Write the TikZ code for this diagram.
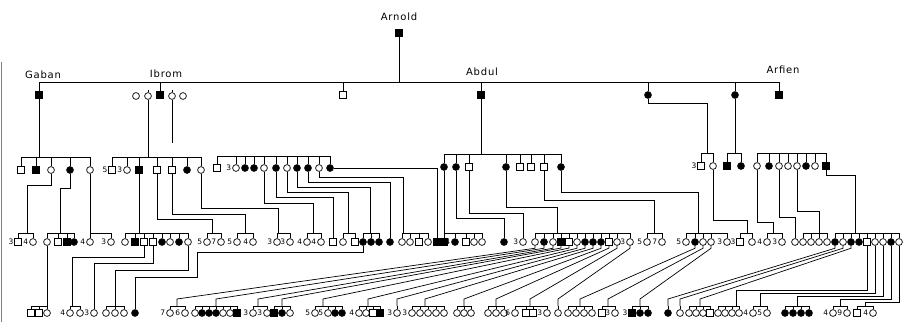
\documentclass[tikz,border=0pt]{standalone}
\usepackage{fontspec}
\setmainfont{DejaVu Sans}
\newfontfamily\lettering[LetterSpace=8]{DejaVu Sans}
\usetikzlibrary{positioning}

\tikzset{
  kin/.style={line width=0.7pt},
  male/.style={draw, rectangle, minimum size=6.4pt, inner sep=0pt, fill=white, line width=0.7pt},
  fem/.style={draw, circle, minimum size=6.8pt, inner sep=0pt, fill=white, line width=0.7pt},
  maleA/.style={male, fill=black},
  femA/.style={fem, fill=black},
  tally/.style={anchor=east, inner sep=0pt, font=\fontsize{7.5}{8}\selectfont},
  founder/.style={inner sep=0pt, font=\lettering\fontsize{10}{10}\selectfont},
}

% #1 row, #2 bar y, #3-#4 bar ends, #5 symbol y, #6 children x/style/count
\newcommand\sibship[6]{%
  \draw[kin] (#3,#2) -- (#4,#2);
  \foreach \x/\s/\n in {#6}{%
    \node[\s] (#1-\x) at (\x,#5) {};
    \node[tally] (#1-\x-n) at ([xshift=-0.8pt]#1-\x.west) {\n};
    \draw[kin] (\x,#2) -- (#1-\x);
  }}
% #1 parent, #2 turn y, #3 bar x, #4 bar y
\newcommand\descent[4]{\draw[kin] (#1.south) |- (#3,#2) -- (#3,#4);}
% #1 parent, #2 bar x
\newcommand\fan[2]{\draw[kin] (#1.south) -- ++(0,2.5) -- (#2,299) -- (#2,306);}

\begin{document}
\begin{tikzpicture}[x=1pt, y=-1pt]
  \useasboundingbox (0,0) rectangle (903,322);
  \draw[gray, line width=0.5pt] (1.5,62) -- (1.5,322);             % page edge

  % generation I
  \node[maleA, minimum size=7.5pt] (arnold) at (399,33) {};
  \node[founder, above=8pt of arnold] (larnold) {Arnold};
  \draw[kin] (arnold) -- (399,82);
  \draw[kin] (39,82) -- (779,82);
  \foreach \x/\s/\nm in {39/maleA/gaban, 160/maleA/ibrom, 343/male/p343, 481/maleA/abdul,
                         648/femA/p648, 735/femA/p735, 779/maleA/arfien}
    {\node[\s] (\nm) at (\x,95) {}; \draw[kin] (\x,82) -- (\nm);}
  \foreach \x in {136,148,172,183} {\node[fem] (w\x) at (\x,96) {};}
  \draw[kin] (148,90) -- (w148);
  \draw[kin] (172,90) -- (w172) -- (172,143);
  \node[founder] (lgaban) at (43,75) {Gaban};
  \node[founder] (librom) at (166,74) {Ibrom};
  \node[founder] (labdul) at (482,72) {Abdul};
  \node[founder] (larfien) at (783,70) {Arfien};

  % generation II
  \sibship{r2}{157}{21}{90}{170}{21/male/{}, 36/maleA/{}, 51/fem/{}, 70/femA/{}, 90/fem/{}}
  \descent{gaban}{157}{39}{157}
  \sibship{r2}{157}{112}{201}{170}{112/male/5, 127/fem/3, 139/maleA/{}, 157/male/{}, 172/male/{},
    187/femA/{}, 201/fem/{}}
  \descent{w148}{157}{148}{157}
  \sibship{r2}{156}{217}{330}{168}{217/male/{}, 236/fem/3, 245/femA/{}, 254/femA/{}, 264/fem/{},
    276/femA/{}, 287/fem/{}, 297/femA/{}, 308/femA/{}, 319/fem/{}, 330/femA/{}}
  \sibship{r2}{154}{444}{561}{167}{444/femA/{}, 456/femA/{}, 469/male/{}, 506/femA/{}, 520/male/{},
    531/male/{}, 544/male/{}, 561/femA/{}}
  \descent{abdul}{154}{481}{154}
  \sibship{r2}{153}{701}{713}{166}{701/male/3, 713/fem/{}}
  \descent{p648}{103}{707}{153}
  \sibship{r2}{153}{727}{741}{166}{727/maleA/{}, 741/femA/{}}
  \descent{p735}{153}{735}{153}
  \sibship{r2}{153}{757}{826}{166}{757/fem/{}, 769/femA/{}, 779/fem/{}, 788/fem/{}, 797/fem/{},
    806/femA/{}, 815/fem/{}, 826/maleA/{}}

  % generation II to III
  \descent{r2-51}{185}{27}{233}
  \descent{r2-70}{188}{60}{233}
  \descent{r2-90}{233}{90}{233}
  \descent{r2-139}{233}{139}{233}
  \descent{r2-157}{219}{212}{233}
  \descent{r2-172}{214}{245}{233}
  \descent{r2-201}{208}{278}{233}
  \descent{r2-264}{203}{313}{233}
  \descent{r2-276}{197}{333}{233}
  \descent{r2-287}{192}{348}{233}
  \descent{r2-297}{187}{370}{233}
  \descent{r2-308}{182}{390}{233}
  \descent{r2-319}{177}{403}{233}
  \draw[kin] (r2-330.east) -| (437,233);
  \descent{r2-444}{233}{444}{233}
  \descent{r2-456}{218}{504}{233}
  \descent{r2-469}{213}{523}{233}
  \descent{r2-506}{207}{557}{233}
  \descent{r2-544}{200}{654}{233}
  \descent{r2-561}{192}{698}{233}
  \descent{r2-713}{220}{747}{233}
  \descent{r2-757}{222}{773}{233}
  \descent{r2-779}{217}{795}{233}
  \descent{r2-797}{211}{819}{233}
  \descent{r2-826}{175}{855}{233}

  % generation III
  \sibship{r3}{233}{18}{33}{242}{18/male/3, 33/fem/4}
  \sibship{r3}{233}{47}{74}{242}{47/fem/{}, 58/male/{}, 67/maleA/{}, 74/femA/{}}
  \sibship{r3}{233}{90}{111}{242}{90/fem/4, 111/fem/3}
  \sibship{r3}{233}{125}{188}{242}{125/fem/{}, 135/maleA/{}, 144/male/{}, 153/male/{}, 162/femA/{},
    170/fem/{}, 179/femA/{}, 188/fem/{}}
  \sibship{r3}{233}{207}{221}{242}{207/fem/5, 221/fem/7}
  \sibship{r3}{233}{237}{253}{242}{237/fem/5, 253/fem/4}
  \sibship{r3}{233}{277}{290}{242}{277/fem/3, 290/fem/3}
  \sibship{r3}{233}{307}{321}{242}{307/fem/4, 321/fem/4}
  \sibship{r3}{233}{333}{333}{242}{333/male/{}}
  \sibship{r3}{233}{343}{355}{242}{343/fem/{}, 355/male/{}}
  \sibship{r3}{233}{363}{379}{242}{363/femA/{}, 371/femA/{}, 379/femA/{}}
  \sibship{r3}{233}{390}{390}{242}{390/femA/{}}
  \sibship{r3}{233}{402}{428}{242}{402/fem/{}, 410/fem/{}, 419/male/{}, 428/fem/{}}
  \sibship{r3}{233}{437}{437}{242}{437/maleA/{}}
  \sibship{r3}{233}{444}{482}{242}{444/maleA/{}, 455/femA/4, 466/male/{}, 474/fem/{}, 482/fem/{}}
  \sibship{r3}{233}{504}{504}{242}{504/femA/{}}
  \sibship{r3}{233}{523}{523}{242}{523/fem/3}
  \sibship{r3}{233}{535}{630}{242}{535/fem/{}, 544/femA/{}, 553/fem/{}, 561/maleA/{}, 569/male/{},
    577/fem/{}, 585/femA/{}, 593/femA/{}, 601/femA/{}, 609/male/{}, 617/fem/{}, 630/fem/3}
  \sibship{r3}{233}{647}{662}{242}{647/fem/5, 662/fem/7}
  \sibship{r3}{233}{686}{727}{242}{686/fem/5, 695/femA/{}, 703/fem/{}, 711/fem/{}, 727/fem/3}
  \sibship{r3}{233}{740}{752}{242}{740/male/3, 752/fem/{}}
  \sibship{r3}{233}{767}{782}{242}{767/fem/4, 782/fem/3}
  \sibship{r3}{233}{795}{795}{242}{795/fem/{}}
  \sibship{r3}{233}{803}{827}{242}{803/fem/{}, 811/fem/{}, 819/fem/{}, 827/fem/{}}
  \sibship{r3}{233}{835}{899}{242}{835/femA/{}, 843/fem/{}, 851/femA/{}, 859/femA/{}, 867/male/{},
    875/fem/{}, 883/fem/{}, 891/femA/{}, 899/fem/{}}

  % generation III to IV
  \descent{r3-47}{306}{47}{306}
  \descent{r3-144}{257}{72}{306}
  \descent{r3-153}{263}{94}{306}
  \descent{r3-188}{270}{115}{306}
  \draw[kin] (r3-363.south) |- (197,252) |- (135,277) -- (135,306);
  \foreach \s/\t in {535/177, 544/216, 553/258, 561/282, 569/323, 577/368, 585/397, 593/425,
                     601/464, 609/496, 617/530, 630/558, 695/580, 703/608, 711/640,
                     835/668, 843/680, 851/700}
    {\fan{r3-\s}{\t}}
  \descent{r3-867}{290}{736}{306}
  \descent{r3-875}{293}{760}{306}
  \descent{r3-883}{296}{797}{306}
  \descent{r3-891}{299}{840}{306}
  \descent{r3-899}{302}{865}{306}

  % generation IV
  \sibship{r4}{306}{31}{47}{313}{31/male/{}, 39/male/{}, 47/fem/{}}
  \sibship{r4}{306}{70}{80}{313}{70/fem/4, 80/fem/{}}
  \sibship{r4}{306}{94}{94}{313}{94/fem/3}
  \sibship{r4}{306}{106}{124}{313}{106/fem/{}, 115/fem/{}, 124/fem/{}}
  \sibship{r4}{306}{135}{135}{313}{135/femA/{}}
  \sibship{r4}{306}{170}{185}{313}{170/fem/7, 185/fem/6}
  \sibship{r4}{306}{195}{237}{313}{195/fem/{}, 202/femA/{}, 209/femA/{}, 216/femA/{}, 223/fem/{},
    230/fem/{}, 237/maleA/{}}
  \sibship{r4}{306}{253}{267}{313}{253/fem/3, 267/fem/3}
  \sibship{r4}{306}{274}{290}{313}{274/maleA/{}, 282/femA/{}, 290/fem/{}}
  \sibship{r4}{306}{315}{342}{313}{315/fem/5, 328/fem/5, 335/femA/{}, 342/femA/{}}
  \sibship{r4}{306}{359}{380}{313}{359/fem/4, 366/fem/{}, 373/male/{}, 380/maleA/{}}
  \sibship{r4}{306}{397}{397}{313}{397/fem/3}
  \sibship{r4}{306}{412}{444}{313}{412/fem/3, 420/fem/{}, 428/fem/{}, 436/fem/{}, 444/fem/{}}
  \sibship{r4}{306}{457}{471}{313}{457/fem/{}, 464/fem/{}, 471/fem/{}}
  \sibship{r4}{306}{488}{504}{313}{488/fem/{}, 496/fem/{}, 504/fem/{}}
  \sibship{r4}{306}{515}{547}{313}{515/fem/6, 526/male/{}, 533/male/{}, 547/fem/3}
  \sibship{r4}{306}{558}{558}{313}{558/fem/{}}
  \sibship{r4}{306}{568}{592}{313}{568/fem/{}, 576/fem/{}, 584/fem/{}, 592/fem/{}}
  \sibship{r4}{306}{602}{615}{313}{602/male/{}, 615/fem/3}
  \sibship{r4}{306}{632}{648}{313}{632/maleA/3, 640/femA/{}, 648/femA/{}}
  \sibship{r4}{306}{668}{668}{313}{668/femA/{}}
  \sibship{r4}{306}{680}{680}{313}{680/fem/{}}
  \sibship{r4}{306}{689}{710}{313}{689/fem/{}, 696/fem/{}, 703/fem/{}, 710/male/{}}
  \sibship{r4}{306}{718}{739}{313}{718/fem/{}, 725/fem/{}, 732/fem/{}, 739/fem/{}}
  \sibship{r4}{306}{753}{767}{313}{753/fem/4, 767/fem/5}
  \sibship{r4}{306}{785}{809}{313}{785/femA/{}, 793/femA/{}, 801/femA/{}, 809/femA/{}}
  \sibship{r4}{306}{833}{847}{313}{833/fem/4, 847/fem/9}
  \sibship{r4}{306}{857}{873}{313}{857/male/{}, 873/fem/4}
\end{tikzpicture}
\end{document}
